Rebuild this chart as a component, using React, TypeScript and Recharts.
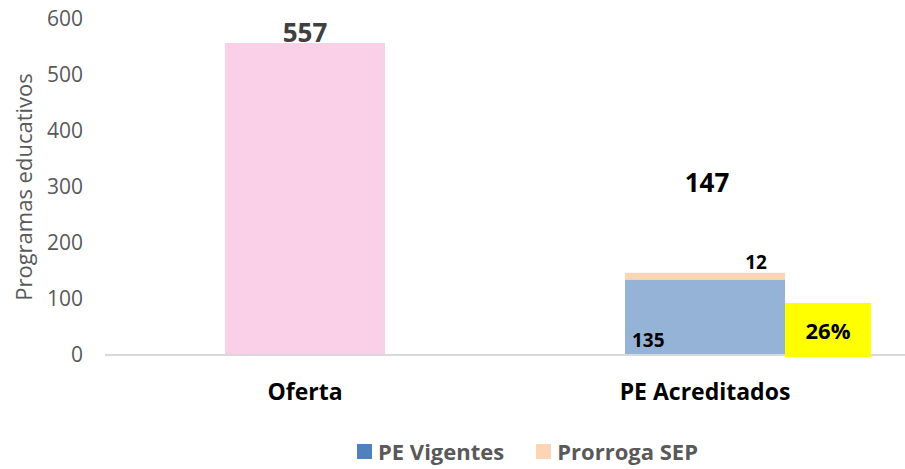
import React from 'react';
import { BarChart, Bar, XAxis, YAxis, Legend, LabelList, Label } from 'recharts';

const categories = ['Oferta', 'PE Acreditados'];
const oferta = [557, null];
const vigentes = [null, 135];
const prorroga = [null, 12];
const totals = [null, 147];
const porcentaje = [null, '26%'];
const yTicks = [0, 100, 200, 300, 400, 500, 600];

const data = categories.map((name, i) => ({
  name,
  oferta: oferta[i],
  vigentes: vigentes[i],
  prorroga: prorroga[i],
  total: totals[i],
  pct: porcentaje[i],
}));

const FONT = '"Open Sans", sans-serif';
const legendColors: Record<string, string> = {
  'PE Vigentes': '#4F81BD',
  'Prorroga SEP': '#FCD5B5',
};

function OfertaLabel(props: any) {
  const { x, y, width, value } = props;
  if (value == null) return null;
  return (
    <text x={x + width / 2} y={y - 11} textAnchor="middle" dominantBaseline="central"
      fontSize={26} fontWeight={700} fill="#404040" fontFamily={FONT}>{value}</text>
  );
}

function VigentesLabel(props: any) {
  const { x, y, height, value } = props;
  if (value == null) return null;
  return (
    <text x={x + 7} y={y + height - 15} textAnchor="start" dominantBaseline="central"
      fontSize={19} fontWeight={700} fill="#000" fontFamily={FONT}>{value}</text>
  );
}

function PctLabel(props: any) {
  const { x, y, width, height, value } = props;
  if (value == null || value === '') return null;
  return (
    <g>
      <rect x={x + width} y={y + height + 2 - 54} width={86} height={54} fill="#FFFF00" />
      <text x={x + width + 43} y={y + height + 2 - 27} textAnchor="middle" dominantBaseline="central"
        fontSize={22} fontWeight={700} fill="#000" fontFamily={FONT}>{value}</text>
    </g>
  );
}

function ProrrogaLabel(props: any) {
  const { x, y, width, value } = props;
  if (value == null) return null;
  return (
    <text x={x + width - 29} y={y - 11} textAnchor="middle" dominantBaseline="central"
      fontSize={19} fontWeight={700} fill="#000" fontFamily={FONT}>{value}</text>
  );
}

function TotalLabel(props: any) {
  const { x, y, width, value } = props;
  if (value == null) return null;
  return (
    <text x={x + width / 2 + 2} y={y - 91} textAnchor="middle" dominantBaseline="central"
      fontSize={26} fontWeight={700} fill="#000" fontFamily={FONT}>{value}</text>
  );
}

function LegendContent(props: any) {
  const items = (props.payload || []).filter((p: any) => p.type !== 'none');
  return (
    <div style={{ display: 'flex', alignItems: 'center', height: 30, fontFamily: FONT }}>
      {items.map((p: any, i: number) => (
        <div key={p.value} style={{ display: 'flex', alignItems: 'center', marginLeft: i === 0 ? 0 : 32 }}>
          <span style={{ display: 'inline-block', width: 15, height: 15, background: legendColors[p.value] || p.color, marginRight: 6 }} />
          <span style={{ fontSize: 22, fontWeight: 700, color: '#595959' }}>{p.value}</span>
        </div>
      ))}
    </div>
  );
}

export default function App() {
  return (
    <div style={{ position: 'absolute', left: 0, top: 0, width: 905, height: 469, background: '#fff' }}>
      <BarChart width={905} height={469} data={data} barSize={160}
        margin={{ top: 19, right: 0, left: 0, bottom: 3 }}>
        <YAxis
          domain={[0, 600]}
          ticks={yTicks}
          width={105}
          axisLine={false}
          tickLine={false}
          tickSize={0}
          tickMargin={22}
          tick={{ fontSize: 21, fill: '#595959', fontFamily: FONT }}
        >
          <Label
            content={(p: any) => {
              const vb = p.viewBox;
              const cx = vb.x + 23;
              const cy = vb.y + vb.height / 2;
              return (
                <text x={cx} y={cy} transform={`rotate(-90 ${cx} ${cy})`} textAnchor="middle"
                  dominantBaseline="central" fontSize={22} fill="#595959" fontFamily={FONT}>
                  Programas educativos
                </text>
              );
            }}
          />
        </YAxis>
        <XAxis
          dataKey="name"
          height={81}
          tickLine={false}
          tickSize={0}
          tickMargin={29}
          axisLine={{ stroke: '#D9D9D9', strokeWidth: 2 }}
          tick={{ fontSize: 23, fontWeight: 700, fill: '#000', fontFamily: FONT }}
        />
        <Legend
          verticalAlign="bottom"
          content={<LegendContent />}
          wrapperStyle={{ left: 357, width: 420 }}
        />
        <Bar dataKey="oferta" name="Oferta" stackId="a" fill="#F9D0E8" legendType="none" isAnimationActive={false}>
          <LabelList dataKey="oferta" content={<OfertaLabel />} />
        </Bar>
        <Bar dataKey="vigentes" name="PE Vigentes" stackId="a" fill="#95B3D7" isAnimationActive={false}>
          <LabelList dataKey="vigentes" content={<VigentesLabel />} />
          <LabelList dataKey="pct" content={<PctLabel />} />
        </Bar>
        <Bar dataKey="prorroga" name="Prorroga SEP" stackId="a" fill="#FCD5B5" isAnimationActive={false}>
          <LabelList dataKey="prorroga" content={<ProrrogaLabel />} />
          <LabelList dataKey="total" content={<TotalLabel />} />
        </Bar>
      </BarChart>
    </div>
  );
}
